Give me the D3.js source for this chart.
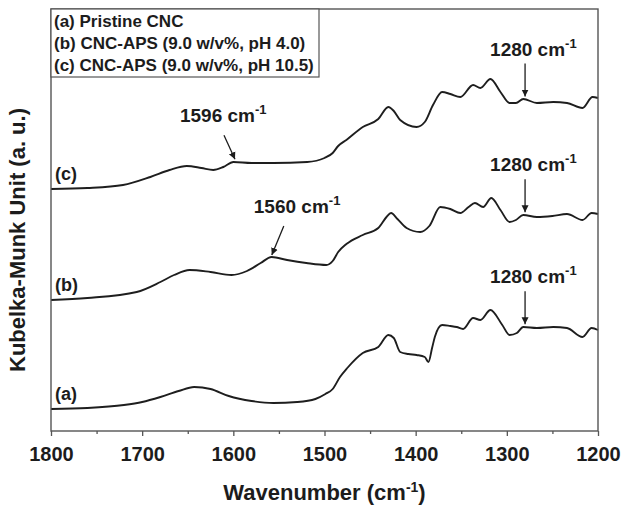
<!DOCTYPE html>
<html>
<head>
<meta charset="utf-8">
<script src="https://cdn.jsdelivr.net/npm/d3@7"></script>
<style>
  body { margin: 0; background: #fff; }
  svg { display: block; }
  text { font-family: "Liberation Sans", Arial, sans-serif; font-weight: bold; fill: #1c1c1c; }
</style>
</head>
<body>
<svg id="chart" width="621" height="507"></svg>
<script>
// Kubelka-Munk spectra, wavenumber (cm^-1) vs. K-M intensity (a.u., curves offset)
const wnA = [1800,1760,1720,1700,1680,1660,1643,1625,1605,1580,1556,1530,1510,1499,1491,1483,1475,1458,1441,1430,1424,1417,1408,1399,1390,1386,1382,1379,1371,1362,1355,1348,1337,1329,1318,1305,1297,1289,1282,1267,1249,1234,1217,1207,1200];
const kmA = [0.22,0.23,0.26,0.29,0.34,0.40,0.44,0.42,0.35,0.30,0.28,0.29,0.32,0.37,0.42,0.54,0.63,0.78,0.84,0.96,0.93,0.79,0.77,0.76,0.74,0.69,0.83,0.94,1.06,1.05,1.04,1.02,1.13,1.11,1.21,1.06,0.96,0.98,1.04,1.03,1.04,1.03,0.94,1.03,1.01];

const wnB = [1800,1760,1706,1680,1665,1648,1625,1602,1585,1570,1558,1541,1520,1498,1491,1485,1476,1458,1441,1432,1427,1420,1410,1395,1385,1373,1362,1351,1342,1335,1326,1317,1307,1297,1290,1282,1267,1250,1234,1217,1207,1200];
const kmB = [1.31,1.33,1.39,1.49,1.56,1.61,1.59,1.56,1.60,1.68,1.74,1.71,1.68,1.66,1.70,1.79,1.87,1.96,2.03,2.14,2.18,2.12,2.03,1.99,2.05,2.24,2.22,2.18,2.24,2.28,2.24,2.33,2.21,2.09,2.11,2.16,2.14,2.15,2.17,2.11,2.18,2.17];

const wnC = [1800,1760,1721,1691,1670,1651,1635,1622,1611,1600,1580,1556,1519,1500,1491,1485,1476,1458,1441,1430,1424,1417,1399,1390,1381,1371,1362,1351,1337,1329,1318,1307,1297,1290,1282,1267,1249,1234,1217,1206,1200];
const kmC = [2.42,2.43,2.46,2.54,2.61,2.65,2.63,2.61,2.64,2.69,2.68,2.68,2.69,2.73,2.78,2.85,2.91,3.04,3.12,3.24,3.20,3.11,3.04,3.09,3.26,3.39,3.37,3.34,3.46,3.43,3.52,3.39,3.28,3.28,3.32,3.28,3.29,3.28,3.23,3.34,3.33];

const curveTags = ["(a)", "(b)", "(c)"];
const legendItems = ["(a) Pristine CNC", "(b) CNC-APS (9.0 w/v%, pH 4.0)", "(c) CNC-APS (9.0 w/v%, pH 10.5)"];
const majorTicks = [1800, 1700, 1600, 1500, 1400, 1300, 1200];
const minorTicks = [1750, 1650, 1550, 1450, 1350, 1250];

// band annotations: wavenumber and which curve (0 = a, 1 = b, 2 = c)
const bandWn = [1280, 1280, 1280, 1596, 1560];
const bandSeries = [0, 1, 2, 2, 1];

const svg = d3.select("#chart");
const margin = { left: 51, right: 23, top: 9, bottom: 76 };
const W = 621, H = 507;

const x = d3.scaleLinear().domain([1800, 1200]).range([margin.left, W - margin.right]);
const y = d3.scaleLinear().domain([0, 4.22]).range([H - margin.bottom, margin.top]);

const series = [
  wnA.map((w, i) => [w, kmA[i]]),
  wnB.map((w, i) => [w, kmB[i]]),
  wnC.map((w, i) => [w, kmC[i]])
];

const line = d3.line()
  .x(d => x(d[0]))
  .y(d => y(d[1]))
  .curve(d3.curveMonotoneX);

// spectra
svg.append("g").selectAll("path")
  .data(series)
  .join("path")
  .attr("d", line)
  .attr("fill", "none")
  .attr("stroke", "#1e1e1e")
  .attr("stroke-width", 1.9)
  .attr("stroke-linejoin", "round");

// curve tags at the left end
svg.append("g").selectAll("text")
  .data(series)
  .join("text")
  .attr("x", x(1800) + 4)
  .attr("y", d => y(d[0][1]) - 9)
  .attr("font-size", 18)
  .text((d, i) => curveTags[i]);

// frame
svg.append("rect")
  .attr("x", x(1800)).attr("y", y(4.22))
  .attr("width", x(1200) - x(1800))
  .attr("height", y(0) - y(4.22))
  .attr("fill", "none")
  .attr("stroke", "#555")
  .attr("stroke-width", 1.4);

// x axis
const gx = svg.append("g").attr("transform", `translate(0,${y(0)})`);
gx.call(d3.axisBottom(x).tickValues(majorTicks).tickSize(5).tickFormat(d3.format("d")));
gx.append("g").call(d3.axisBottom(x).tickValues(minorTicks).tickSize(3).tickFormat(""));
gx.selectAll(".domain").remove();
gx.selectAll("line").attr("stroke", "#555").attr("stroke-width", 1.3);
gx.selectAll("text")
  .attr("font-size", 20)
  .attr("y", 30)
  .attr("dy", 0)
  .attr("fill", "#1c1c1c");

// axis titles
const xt = svg.append("text")
  .attr("x", (x(1800) + x(1200)) / 2)
  .attr("y", 500)
  .attr("text-anchor", "middle")
  .attr("font-size", 22);
xt.append("tspan").text("Wavenumber (cm");
xt.append("tspan").attr("dy", -8).attr("font-size", 14).text("-1");
xt.append("tspan").attr("dy", 8).text(")");

svg.append("text")
  .attr("transform", `translate(25,240) rotate(-90)`)
  .attr("text-anchor", "middle")
  .attr("font-size", 22)
  .text("Kubelka-Munk Unit (a. u.)");

// legend box
const lg = svg.append("g");
lg.append("rect")
  .attr("x", x(1800)).attr("y", y(4.22))
  .attr("width", 268).attr("height", 68)
  .attr("fill", "#fff")
  .attr("stroke", "#555")
  .attr("stroke-width", 1.2);
lg.selectAll("text")
  .data(legendItems)
  .join("text")
  .attr("x", x(1800) + 3)
  .attr("y", (d, i) => y(4.22) + 18 + i * 22)
  .attr("font-size", 17)
  .text(d => d);

// arrow head
svg.append("defs").append("marker")
  .attr("id", "head")
  .attr("viewBox", "0 0 10 10")
  .attr("refX", 10).attr("refY", 5)
  .attr("markerWidth", 7).attr("markerHeight", 8)
  .attr("markerUnits", "userSpaceOnUse")
  .attr("orient", "auto")
  .append("path")
  .attr("d", "M0,0 L10,5 L0,10 Z")
  .attr("fill", "#1c1c1c");

function valueAt(s, w) {
  const pts = series[s];
  for (let i = 0; i < pts.length - 1; i++) {
    const [w0, v0] = pts[i], [w1, v1] = pts[i + 1];
    if (w <= w0 && w >= w1) return v0 + (v1 - v0) * (w0 - w) / (w0 - w1);
  }
  return pts[pts.length - 1][1];
}

// label placement relative to the band position
const labelDx = [-35, -35, -35, -57, -16];
const labelDy = [-44, -44, -44, -40, -45];
const arrowFrom = [[0, -36], [0, -36], [0, -36], [-13, -27], [14, -32]];

bandWn.forEach((w, k) => {
  const bx = x(w), by = y(valueAt(bandSeries[k], w));
  const t = svg.append("text")
    .attr("x", bx + labelDx[k])
    .attr("y", by + labelDy[k])
    .attr("font-size", 19);
  t.append("tspan").text(`${w} cm`);
  t.append("tspan").attr("dy", -8).attr("font-size", 13).text("-1");
  svg.append("line")
    .attr("x1", bx + arrowFrom[k][0]).attr("y1", by + arrowFrom[k][1])
    .attr("x2", bx - (k >= 3 ? (k === 3 ? 2 : -2) : 0)).attr("y2", by - 3)
    .attr("stroke", "#1c1c1c")
    .attr("stroke-width", 1.3)
    .attr("marker-end", "url(#head)");
});
</script>
</body>
</html>
